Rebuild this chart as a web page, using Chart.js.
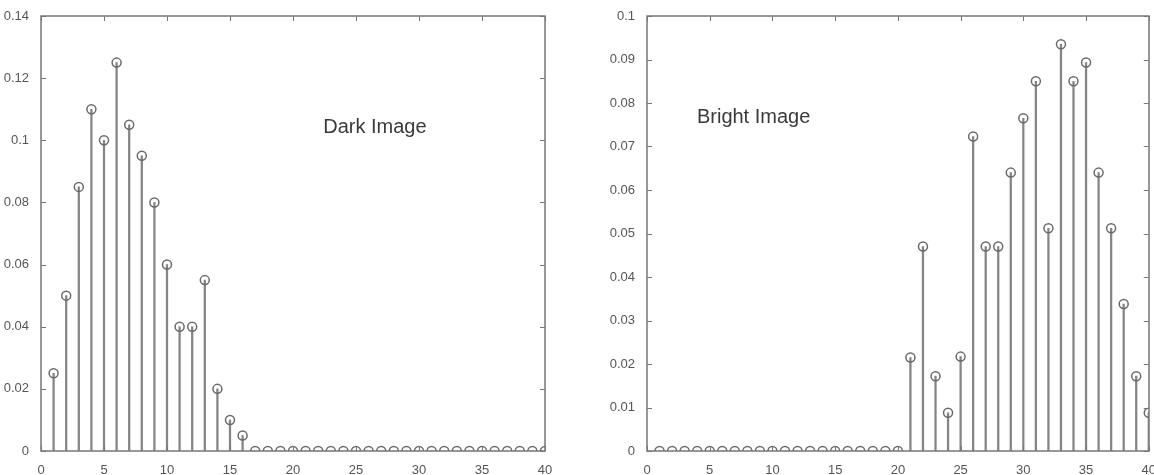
<!DOCTYPE html>
<html>
<head>
<meta charset="utf-8">
<script src="https://cdn.jsdelivr.net/npm/chart.js@4/dist/chart.umd.min.js"></script>
<style>
  html, body { margin: 0; padding: 0; background: #fff; }
  #wrap { position: relative; width: 1154px; height: 475px; overflow: hidden; }
  .box { position: absolute; top: 0; height: 475px; }
</style>
</head>
<body>
<div id="wrap">
  <div class="box" style="left:0;width:560px"><canvas id="cDark"></canvas></div>
  <div class="box" style="left:590px;width:570px"><canvas id="cBright"></canvas></div>
</div>
<script>
// ---- datos ----
const bins = [1,2,3,4,5,6,7,8,9,10,11,12,13,14,15,16,17,18,19,20,
              21,22,23,24,25,26,27,28,29,30,31,32,33,34,35,36,37,38,39,40];

const darkValues = [0.025,0.05,0.085,0.11,0.10,0.125,0.105,0.095,0.08,0.06,
                    0.04,0.04,0.055,0.02,0.01,0.005,0,0,0,0,
                    0,0,0,0,0,0,0,0,0,0,
                    0,0,0,0,0,0,0,0,0,0];

const brightValues = [0,0,0,0,0,0,0,0,0,0,
                      0,0,0,0,0,0,0,0,0,0,
                      0.0215,0.047,0.0172,0.0088,0.0217,0.0723,0.047,0.047,0.064,0.0765,
                      0.085,0.0512,0.0935,0.085,0.0893,0.064,0.0512,0.0338,0.0172,0.0088];

const xTicks = [0,5,10,15,20,25,30,35,40];
const yTicksDark = [0,0.02,0.04,0.06,0.08,0.1,0.12,0.14];
const yTicksBright = [0,0.01,0.02,0.03,0.04,0.05,0.06,0.07,0.08,0.09,0.1];

const darkLabel = { x: 26.5, y: 0.104, text: 'Dark Image' };
const brightLabel = { x: 8.5, y: 0.0766, text: 'Bright Image' };

// ---- estilo ----
const AXIS = '#777';
const STEM = '#858585';
const TXT = '#555';
const FONT = '"Liberation Sans", Arial, sans-serif';

// caja estilo matlab con marcas hacia dentro
const frame = {
  id: 'frame',
  afterDatasetsDraw(chart, args, opts) {
    const { ctx, chartArea: a, scales: { x, y } } = chart;
    ctx.save();
    ctx.strokeStyle = AXIS;
    ctx.lineWidth = 1.5;
    ctx.strokeRect(Math.round(a.left), Math.round(a.top),
                   Math.round(a.right - a.left), Math.round(a.bottom - a.top));
    const L = 5;
    ctx.lineWidth = 1;
    ctx.beginPath();
    x.ticks.forEach(t => {
      const px = Math.round(x.getPixelForValue(t.value)) + 0.5;
      ctx.moveTo(px, a.bottom); ctx.lineTo(px, a.bottom - L);
      ctx.moveTo(px, a.top); ctx.lineTo(px, a.top + L);
    });
    y.ticks.forEach(t => {
      const py = Math.round(y.getPixelForValue(t.value)) + 0.5;
      ctx.moveTo(a.left, py); ctx.lineTo(a.left + L, py);
      ctx.moveTo(a.right, py); ctx.lineTo(a.right - L, py);
    });
    ctx.stroke();
    if (opts.label) {
      ctx.fillStyle = '#3a3a3a';
      ctx.font = '20px ' + FONT;
      ctx.textAlign = 'center';
      ctx.textBaseline = 'middle';
      ctx.fillText(opts.label.text, x.getPixelForValue(opts.label.x), y.getPixelForValue(opts.label.y));
    }
    ctx.restore();
  }
};

const fmtTick = v => String(+Number(v).toFixed(2));

function makeStem(id, values, yMax, yTicks, label, yWidth, pad) {
  const pts = bins.map((b, i) => ({ x: b, y: values[i] }));
  return new Chart(document.getElementById(id), {
    type: 'bar',
    data: {
      datasets: [
        { type: 'bar', data: pts, backgroundColor: STEM, barThickness: 1.6, grouped: false, order: 2 },
        { type: 'line', data: pts, showLine: false, pointStyle: 'circle', pointRadius: 4.5,
          pointBorderWidth: 1.5, pointBorderColor: '#6a6a6a', pointBackgroundColor: 'rgba(0,0,0,0)', order: 1 }
      ]
    },
    options: {
      animation: false,
      responsive: true,
      maintainAspectRatio: false,
      layout: { padding: pad },
      plugins: { legend: { display: false }, tooltip: { enabled: false }, frame: { label } },
      scales: {
        x: {
          type: 'linear', min: 0, max: 40, offset: false,
          grid: { display: false }, border: { display: false },
          afterBuildTicks: s => { s.ticks = xTicks.map(v => ({ value: v })); },
          afterFit: s => { s.height = 24; },
          ticks: { color: TXT, font: { size: 13, family: FONT }, padding: 4, maxRotation: 0, autoSkip: false }
        },
        y: {
          min: 0, max: yMax,
          grid: { display: false }, border: { display: false },
          afterBuildTicks: s => { s.ticks = yTicks.map(v => ({ value: v })); },
          afterFit: s => { s.width = yWidth; },
          ticks: { color: TXT, font: { size: 13, family: FONT }, padding: 4, callback: fmtTick }
        }
      }
    },
    plugins: [frame]
  });
}

makeStem('cDark', darkValues, 0.14, yTicksDark, darkLabel, 41, { top: 16, right: 15, left: 0, bottom: 0 });
makeStem('cBright', brightValues, 0.1, yTicksBright, brightLabel, 57, { top: 16, right: 11, left: 0, bottom: 0 });
</script>
</body>
</html>
